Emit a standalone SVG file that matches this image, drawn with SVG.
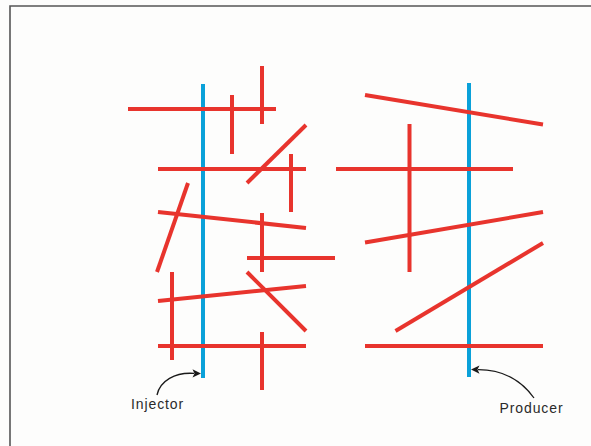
<svg xmlns="http://www.w3.org/2000/svg" width="591" height="446" viewBox="0 0 591 446">
  <style>
    .frame { stroke: #555; stroke-width: 1.6; fill: none; }
    .frac { stroke: #e8342d; stroke-width: 4; fill: none; }
    .well { stroke: #0aa1d9; stroke-width: 4; fill: none; }
    .lead { stroke: #1a1a1a; stroke-width: 1.3; fill: none; }
    .head { fill: #1a1a1a; }
    .label { font-family: "Liberation Sans", Arial, sans-serif; font-size: 14px; fill: #2a2a2a; letter-spacing: 0.9px; }
  </style>
  <rect x="0" y="0" width="591" height="446" fill="#fdfdfc"/>
  <path class="frame" d="M10,446 V6 H591"/>

  <!-- wells sit beneath the fracture traces -->
  <g id="injector">
    <line class="well" x1="203" y1="84" x2="203" y2="378"/>
  </g>
  <g id="producer">
    <line class="well" x1="469" y1="83" x2="469" y2="377"/>
  </g>

  <!-- fractures around the injector -->
  <g id="fractures-left">
    <line class="frac" x1="128" y1="109" x2="276" y2="109"/>
    <line class="frac" x1="232" y1="95" x2="232" y2="154"/>
    <line class="frac" x1="262" y1="66" x2="262" y2="124"/>
    <line class="frac" x1="158" y1="169" x2="306" y2="169"/>
    <line class="frac" x1="247" y1="183" x2="306" y2="125"/>
    <line class="frac" x1="291" y1="154" x2="291" y2="212"/>
    <line class="frac" x1="188" y1="183" x2="157" y2="272"/>
    <line class="frac" x1="158" y1="212" x2="306" y2="228"/>
    <line class="frac" x1="262" y1="213" x2="262" y2="272"/>
    <line class="frac" x1="247" y1="258" x2="335" y2="258"/>
    <line class="frac" x1="247" y1="272" x2="306" y2="331"/>
    <line class="frac" x1="158" y1="301" x2="306" y2="286"/>
    <line class="frac" x1="172" y1="272" x2="172" y2="360"/>
    <line class="frac" x1="158" y1="346" x2="306" y2="346"/>
    <line class="frac" x1="262" y1="332" x2="262" y2="390"/>
  </g>

  <!-- fractures around the producer -->
  <g id="fractures-right">
    <line class="frac" x1="365" y1="95" x2="543" y2="124.5"/>
    <line class="frac" x1="336" y1="169" x2="513" y2="169"/>
    <line class="frac" x1="409.5" y1="124" x2="409.5" y2="272"/>
    <line class="frac" x1="365" y1="242.5" x2="543" y2="212"/>
    <line class="frac" x1="395.5" y1="331" x2="543" y2="243"/>
    <line class="frac" x1="365" y1="346" x2="543" y2="346"/>
  </g>

  <g id="connectors">
    <path class="lead" d="M157,395 C160,381 175,372 194,373.4"/>
    <path class="head" d="M201,373.4 L192.5,369.2 L194.5,373.4 L192.5,377.6 Z"/>
    <path class="lead" d="M534,398 C522,381 503,369.5 478,369.6"/>
    <path class="head" d="M471,369.6 L479.5,365.4 L477.5,369.6 L479.5,373.8 Z"/>
  </g>

  <g id="labels">
    <text class="label" x="131" y="409">Injector</text>
    <text class="label" x="499.5" y="413">Producer</text>
  </g>
</svg>
